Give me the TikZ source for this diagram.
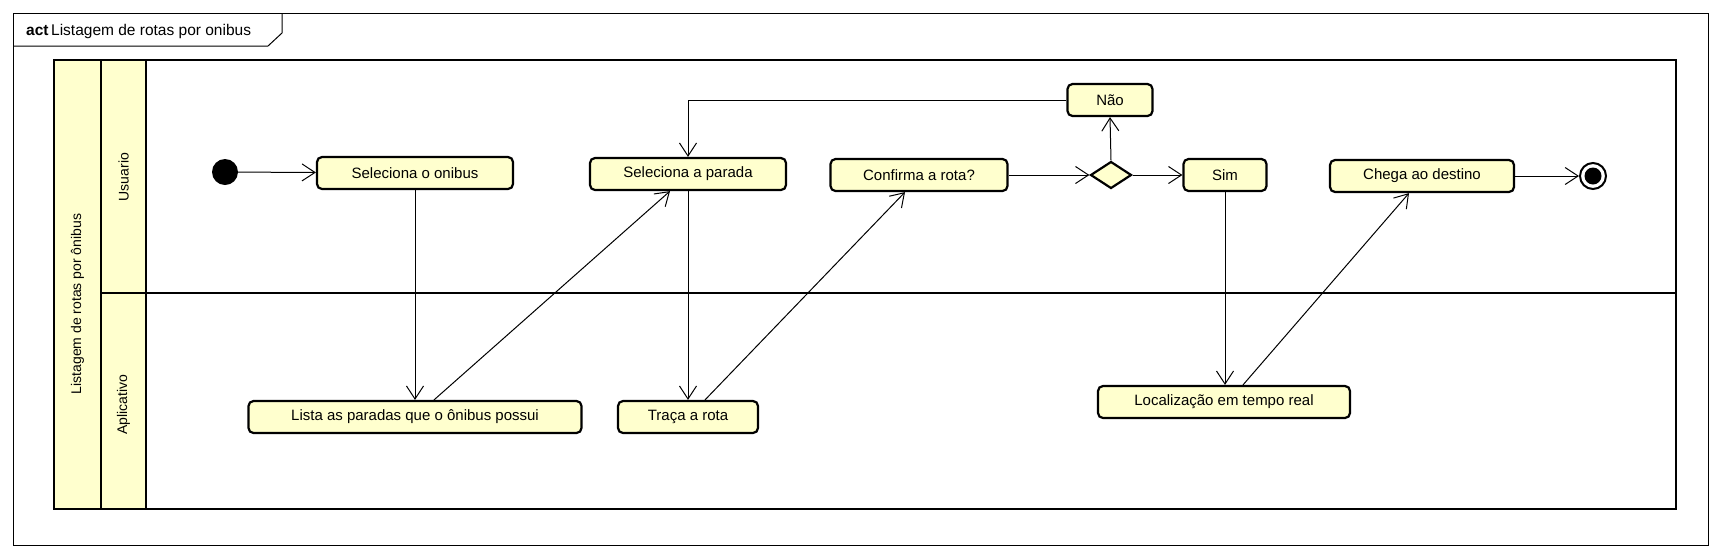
\documentclass[tikz,border=0pt]{standalone}
\usepackage{fontspec}
\setmainfont{Liberation Sans}
\usetikzlibrary{arrows.meta,shapes.geometric}
\definecolor{umlfill}{RGB}{255,255,206}
\begin{document}
\begin{tikzpicture}[x=1pt,y=-1pt,
        acao/.style={draw,line width=2.2pt,rounded corners=5pt,fill=umlfill,
            minimum height=32pt,inner sep=0pt,font=\fontsize{15}{18}\selectfont},
        fluxo/.style={line width=1pt,-{Straight Barb[length=13pt,width=17pt,line width=1pt]}},
        raia/.style={line width=2.6pt},
        rotulo/.style={rotate=90,font=\fontsize{14}{17}\selectfont}]
        \useasboundingbox (0,0) rectangle (1721,558);
        % Define dimensions
        \def\lanetop{60}
        \def\lanemid{293}
        \def\lanebot{509}
        \def\laneright{1676}
        % Outer frame with tab
        \draw[line width=1pt] (13,13) rectangle (1708,545);
        \draw[line width=1pt] (13,46) -- (268,46) -- (282,33) -- (282,13);
        \node[anchor=west,inner sep=0pt,font=\fontsize{15.5}{18}\selectfont] (titulo) at (26,31)
            {\textbf{act}\,Listagem de rotas por onibus};
        % Swimlanes
        \begin{scope}
            \fill[umlfill] (54,\lanetop) rectangle (146,\lanebot);
            \draw[raia] (54,\lanetop) rectangle (\laneright,\lanebot);
            \draw[raia] (101,\lanetop) -- (101,\lanebot);
            \draw[raia] (146,\lanetop) -- (146,\lanebot);
            \draw[raia] (101,\lanemid) -- (\laneright,\lanemid);
        \end{scope}
        \node[rotulo] (particao) at (77.5,304) {Listagem de rotas por ônibus};
        \node[rotulo] (usuario) at (123.5,177) {Usuario};
        \node[rotulo] (aplicativo) at (123.5,405) {Aplicativo};
        % Actions
        \node[circle,fill=black,minimum size=26pt,inner sep=0pt] (inicio) at (225,172) {};
        \node[acao,minimum width=196pt] (onibus) at (415,173) {Seleciona o onibus};
        \node[acao,minimum width=196pt] (parada) at (688,174) {Seleciona a parada};
        \node[acao,minimum width=177pt] (confirma) at (919,175) {Confirma a rota?};
        \node[diamond,draw,line width=2.2pt,fill=umlfill,minimum width=41pt,minimum height=27pt,
            inner sep=0pt] (decisao) at (1111,175) {};
        \node[acao,minimum width=85pt] (nao) at (1110,100) {Não};
        \node[acao,minimum width=83pt] (sim) at (1225,175) {Sim};
        \node[acao,minimum width=184pt] (chega) at (1422,176) {Chega ao destino};
        \node[circle,draw,line width=2pt,fill=white,minimum size=26pt,inner sep=0pt] (fim) at (1593,176) {};
        \fill (fim.center) circle (8.5);
        \node[acao,minimum width=333pt] (lista) at (415,417) {Lista as paradas que o ônibus possui};
        \node[acao,minimum width=140pt] (traca) at (688,417) {Traça a rota};
        \node[acao,minimum width=252pt] (local) at (1224,402) {Localização em tempo real};
        % Flows
        \draw[fluxo] (inicio) -- (onibus);
        \draw[fluxo] (onibus.south) -- (onibus.south |- lista.north);
        \draw[fluxo] ([xshift=19pt]lista.north) -- ([xshift=-18pt]parada.south);
        \draw[fluxo] (parada.south) -- (parada.south |- traca.north);
        \draw[fluxo] ([xshift=17pt]traca.north) -- ([xshift=-14pt]confirma.south);
        \draw[fluxo] (confirma) -- (decisao.west);
        \draw[fluxo] (decisao.north) -- (nao.south);
        \draw[fluxo] (decisao.east) -- (sim.west);
        \draw[fluxo] (nao.west) -| (parada.north);
        \draw[fluxo] (sim.south) -- (sim.south |- local.north);
        \draw[fluxo] ([xshift=19pt]local.north) -- ([xshift=-13pt]chega.south);
        \draw[fluxo] (chega) -- (fim);
    \end{tikzpicture}
\end{document}
